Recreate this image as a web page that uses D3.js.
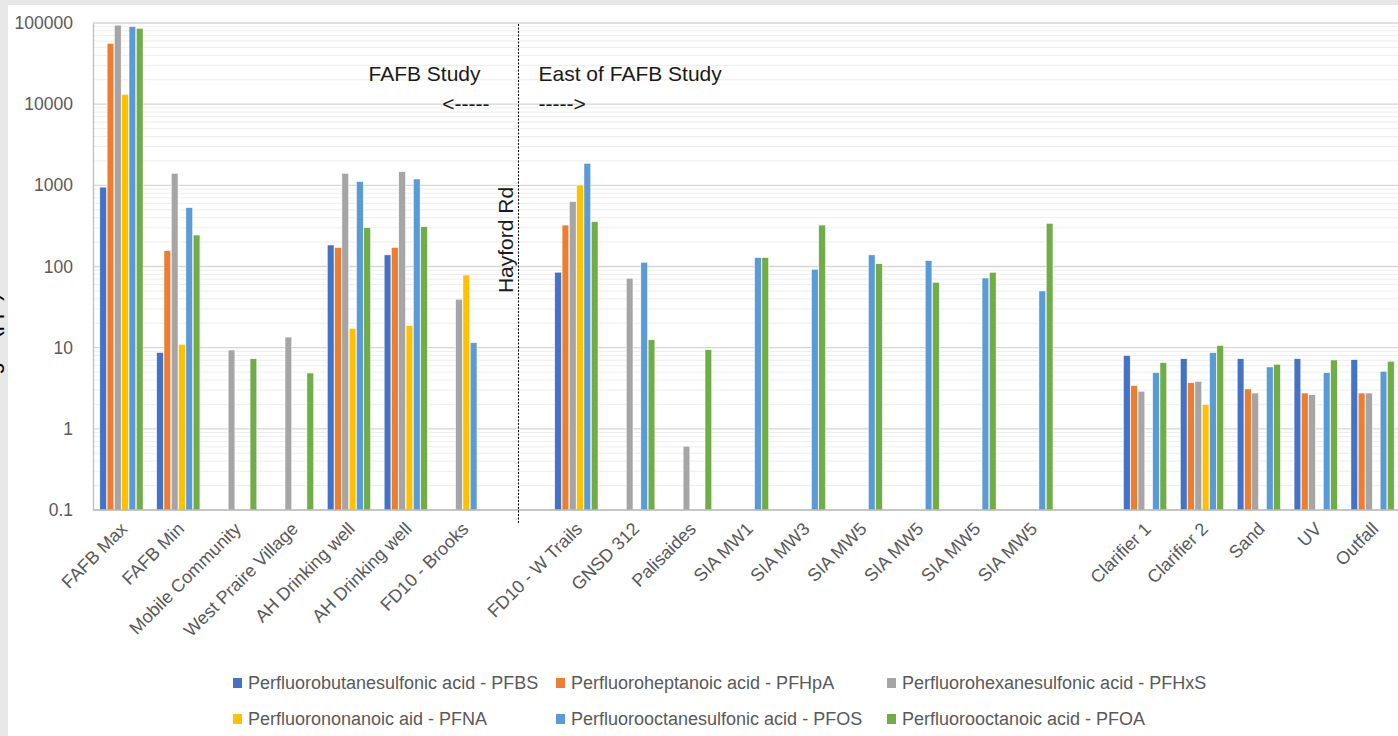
<!DOCTYPE html>
<html>
<head>
<meta charset="utf-8">
<script src="https://cdn.jsdelivr.net/npm/d3@7"></script>
<style>
  body { margin: 0; background: #e7e7e7; }
  svg { display: block; font-family: "Liberation Sans", Arial, sans-serif; }
</style>
</head>
<body>
<svg width="1398" height="736"></svg>
<script>
"use strict";

// Sampling sites (blank entries are spacer slots)
var categories = ["FAFB Max", "FAFB Min", "Mobile Community", "West Praire Village",
    "AH Drinking well", "AH Drinking well", "FD10 - Brooks", "",
    "FD10 - W Trails", "GNSD 312", "Palisaides", "SIA MW1", "SIA MW3",
    "SIA MW5", "SIA MW5", "SIA MW5", "SIA MW5", "",
    "Clarifier 1", "Clarifier 2", "Sand", "UV", "Outfall"];

var seriesNames = ["Perfluorobutanesulfonic acid - PFBS", "Perfluoroheptanoic acid - PFHpA",
    "Perfluorohexanesulfonic acid - PFHxS", "Perfluorononanoic aid - PFNA",
    "Perfluorooctanesulfonic acid - PFOS", "Perfluorooctanoic acid - PFOA"];

var seriesColors = ["#4472c4", "#ed7d31", "#a5a5a5", "#ffc000", "#5b9bd5", "#70ad47"];

// Values, ng/L (null = not reported)
var pfbs  = [950, 8.7, null, null, 184, 139, null, null, 85, null, null, null, null, null, null, null, null, null, 8.0, 7.3, 7.3, 7.3, 7.1];
var pfhpa = [56000, 157, null, null, 171, 171, null, null, 324, null, null, null, null, null, null, null, null, null, 3.4, 3.7, 3.1, 2.76, 2.76];
var pfhxs = [94000, 1400, 9.35, 13.5, 1400, 1470, 39.5, null, 628, 71.5, 0.61, null, null, null, null, null, null, null, 2.9, 3.85, 2.76, 2.63, 2.76];
var pfna  = [13200, 11, null, null, 17.3, 18.7, 78.5, null, 1009, null, null, null, null, null, null, null, null, null, null, 1.98, null, null, null];
var pfos  = [90000, 531, null, null, 1109, 1197, 11.5, null, 1867, 112.5, null, 128.5, 92.3, 139, 118, 72.1, 49.9, null, 4.92, 8.67, 5.78, 4.92, 5.11];
var pfoa  = [86000, 244, 7.3, 4.87, 301, 310, null, null, 356, 12.5, 9.44, 128.5, 324, 108, 63.8, 84.8, 340, null, 6.53, 10.6, 6.24, 7.05, 6.79];

var seriesValues = [pfbs, pfhpa, pfhxs, pfna, pfos, pfoa];

var yTicks = [0.1, 1, 10, 100, 1000, 10000, 100000];

var svg = d3.select("svg");

// White chart area on the grey page
svg.append("rect")
    .attr("x", 8).attr("y", 5)
    .attr("width", 1390).attr("height", 731)
    .attr("fill", "#ffffff");

// Axis title, cut off by the left edge as in the source
svg.append("text")
    .attr("transform", "translate(-1, 340) rotate(-90)")
    .style("text-anchor", "middle")
    .style("font-size", "22px")
    .attr("fill", "#000")
    .text("ng/L (ppt)");

var xScale = d3.scaleBand()
    .domain(d3.range(categories.length))
    .range([93, 1401])
    .paddingInner(0.24)
    .paddingOuter(0.12);

var xSeries = d3.scaleBand()
    .domain(d3.range(seriesNames.length))
    .range([0, xScale.bandwidth()])
    .paddingInner(0.08);

var yScale = d3.scaleLog()
    .domain([0.1, 100000])
    .range([510, 23]);

// Gridlines: minor first, then major
var minor = [];
yTicks.slice(0, -1).forEach(function (t) {
    for (var k = 2; k <= 9; k++) minor.push(t * k);
});

var grid = svg.append("g").attr("class", "grid");
grid.selectAll("line.minor")
    .data(minor)
    .enter().append("line")
        .attr("class", "minor")
        .attr("x1", 93).attr("x2", 1398)
        .attr("y1", function (d) { return yScale(d); })
        .attr("y2", function (d) { return yScale(d); })
        .attr("stroke", "#ededed")
        .attr("stroke-width", 1);

grid.selectAll("line.major")
    .data(yTicks.slice(1))
    .enter().append("line")
        .attr("class", "major")
        .attr("x1", 93).attr("x2", 1398)
        .attr("y1", function (d) { return yScale(d); })
        .attr("y2", function (d) { return yScale(d); })
        .attr("stroke", "#d6d6d6")
        .attr("stroke-width", 1.3);

// Y axis
var yAxis = d3.axisLeft(yScale)
    .tickValues(yTicks)
    .tickFormat(function (d) { return d < 1 ? "0.1" : d3.format("d")(d); })
    .tickSize(0)
    .tickPadding(20);

var yG = svg.append("g")
    .attr("transform", "translate(93, 0)")
    .call(yAxis);
yG.select(".domain").attr("stroke", "#bfbfbf").attr("stroke-width", 1.3);
yG.selectAll("text")
    .attr("fill", "#595959")
    .style("font-size", "17.5px")
    .style("font-family", "'Liberation Sans', Arial, sans-serif");

// Bars
var groups = svg.append("g").attr("class", "bars")
    .selectAll("g")
    .data(seriesValues)
    .enter().append("g")
        .attr("fill", function (d, i) { return seriesColors[i]; });

groups.each(function (vals, s) {
    d3.select(this).selectAll("rect")
        .data(vals.map(function (v, c) { return { c: c, v: v }; })
            .filter(function (d) { return d.v !== null; }))
        .enter().append("rect")
            .attr("x", function (d) { return xScale(d.c) + xSeries(s); })
            .attr("width", xSeries.bandwidth())
            .attr("y", function (d) { return yScale(d.v); })
            .attr("height", function (d) { return yScale(0.1) - yScale(d.v); })
            .attr("stroke", "#ffffff")
            .attr("stroke-width", 0.5);
});

// X axis line
svg.append("line")
    .attr("x1", 93).attr("x2", 1398)
    .attr("y1", yScale(0.1)).attr("y2", yScale(0.1))
    .attr("stroke", "#b3b3b3")
    .attr("stroke-width", 1.6);

// Category labels
svg.append("g").attr("class", "xlabels")
    .selectAll("text")
    .data(categories)
    .enter().append("text")
        .attr("transform", function (d, i) {
            return "translate(" + (xScale(i) + xScale.bandwidth() / 2 - 2) + ", 521) rotate(-45)";
        })
        .attr("dy", "0.71em")
        .style("text-anchor", "end")
        .style("font-size", "18px")
        .attr("fill", "#595959")
        .text(function (d) { return d; });

// Divider between the two studies (centre of the first blank slot)
var divX = xScale(7) + xScale.bandwidth() / 2 - 1;
svg.append("line")
    .attr("x1", divX).attr("x2", divX)
    .attr("y1", 24).attr("y2", 523)
    .attr("stroke", "#000")
    .attr("stroke-width", 1)
    .attr("stroke-dasharray", "2,1.5");

var notes = svg.append("g")
    .style("font-size", "21px")
    .attr("fill", "#1a1a1a");

notes.append("text")
    .attr("x", divX - 38).attr("y", 81)
    .style("text-anchor", "end")
    .text("FAFB Study");
notes.append("text")
    .attr("x", divX - 29).attr("y", 111)
    .style("text-anchor", "end")
    .text("<-----");
notes.append("text")
    .attr("x", divX + 20).attr("y", 81)
    .text("East of FAFB Study");
notes.append("text")
    .attr("x", divX + 20).attr("y", 111)
    .text("----->");
notes.append("text")
    .attr("transform", "translate(" + (divX - 6) + ", 240) rotate(-90)")
    .style("text-anchor", "middle")
    .text("Hayford Rd");

// Legend, three columns by two rows
var legendX = [233, 556, 887];
var legendY = [683, 719];

var legend = svg.append("g").attr("class", "legend")
    .selectAll("g")
    .data(seriesNames)
    .enter().append("g")
        .attr("transform", function (d, i) {
            return "translate(" + legendX[i % 3] + "," + legendY[Math.floor(i / 3)] + ")";
        });

legend.append("rect")
    .attr("x", 0).attr("y", -5)
    .attr("width", 9).attr("height", 10)
    .attr("fill", function (d, i) { return seriesColors[i]; });

legend.append("text")
    .attr("x", 15)
    .attr("dy", "0.35em")
    .style("font-size", "18px")
    .attr("fill", "#595959")
    .text(function (d) { return d; });
</script>
</body>
</html>
